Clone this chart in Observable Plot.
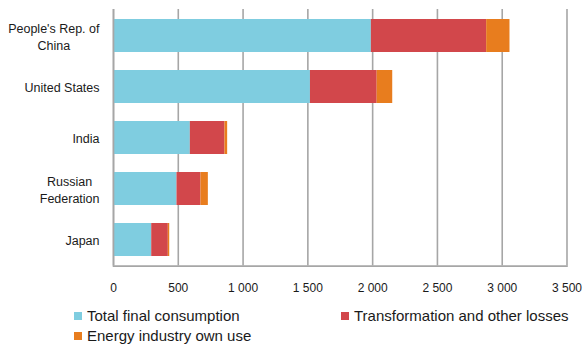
<!DOCTYPE html>
<html><head><meta charset="utf-8">
<script src="https://cdn.jsdelivr.net/npm/d3@7"></script>
<script src="https://cdn.jsdelivr.net/npm/@observablehq/plot@0.6"></script>
<style>
body{margin:0;background:#fff;font-family:"Liberation Sans",Arial,sans-serif;color:#1a1a1a;overflow:hidden;}
#chart{width:583px;height:300px;}
#legend{display:grid;grid-template-columns:267px 242px;padding-left:74px;margin-top:6px;}
.item{display:flex;align-items:center;height:20px;font-size:15px;line-height:20px;white-space:nowrap;}
.sw{width:8px;height:8px;margin-right:5px;flex:none;}
</style></head><body>
<div id="chart"></div>
<div id="legend"></div>
<script>
const countries = ["People's Rep. of\nChina", "United States", "India", "Russian\nFederation", "Japan"];
const seriesNames = ["Total final consumption", "Transformation and other losses", "Energy industry own use"];
const finalConsumption = [1990, 1520, 593, 490, 295];
const transformationLosses = [890, 515, 267, 185, 128];
const ownUse = [180, 120, 21, 57, 11];
const xTicks = [0, 500, 1000, 1500, 2000, 2500, 3000, 3500];
const colors = ["#7fcde0", "#d2474b", "#e87d1e"];

const valuesBySeries = [finalConsumption, transformationLosses, ownUse];
const data = [];
seriesNames.forEach((s, si) => {
  countries.forEach((c, ci) => data.push({country: c, series: s, value: valuesBySeries[si][ci]}));
});

const fmt = d => d3.format(",")(d).replace(/,/g, " ");

const plot = Plot.plot({
  width: 583,
  height: 300,
  marginLeft: 113,
  marginRight: 16.5,
  marginTop: 9,
  marginBottom: 34.4,
  style: {fontFamily: "'Liberation Sans', Arial, sans-serif", fontSize: "12px", color: "#1a1a1a", background: "#fff"},
  x: {domain: [0, 3500]},
  y: {domain: countries, paddingInner: 0.35, paddingOuter: 0.19},
  color: {domain: seriesNames, range: colors},
  marks: [
    Plot.ruleX(xTicks, {stroke: "#a6a6a6", strokeWidth: 1.6}),
    Plot.barX(data, {y: "country", x: "value", fill: "series", order: seriesNames}),
    Plot.ruleX([0], {stroke: "#a6a6a6", strokeWidth: 1.6}),
    Plot.frame({anchor: "bottom", stroke: "#a6a6a6", strokeWidth: 1.6}),
    Plot.axisX({ticks: xTicks, tickFormat: fmt, tickSize: 0, tickPadding: 17, label: null, fontSize: 12, fill: "#1a1a1a"}),
    Plot.axisY({tickSize: 0, tickPadding: 14, label: null, fontSize: 12.5, lineHeight: 1.35, fill: "#1a1a1a"})
  ]
});
document.getElementById("chart").appendChild(plot);

// centre multi-line y labels while keeping the block right-aligned
plot.querySelectorAll('g[aria-label="y-axis tick label"] text').forEach(t => {
  const b0 = t.getBBox();
  t.setAttribute("text-anchor", "middle");
  const b1 = t.getBBox();
  const shift = (b0.x + b0.width) - (b1.x + b1.width);
  const tr = t.getAttribute("transform") || "";
  t.setAttribute("transform", tr + ` translate(${shift},0)`);
});

const legend = d3.select("#legend");
seriesNames.forEach((s, i) => {
  const it = legend.append("div").attr("class", "item");
  it.append("div").attr("class", "sw").style("background", colors[i]);
  it.append("span").text(s);
});
</script>
</body></html>
